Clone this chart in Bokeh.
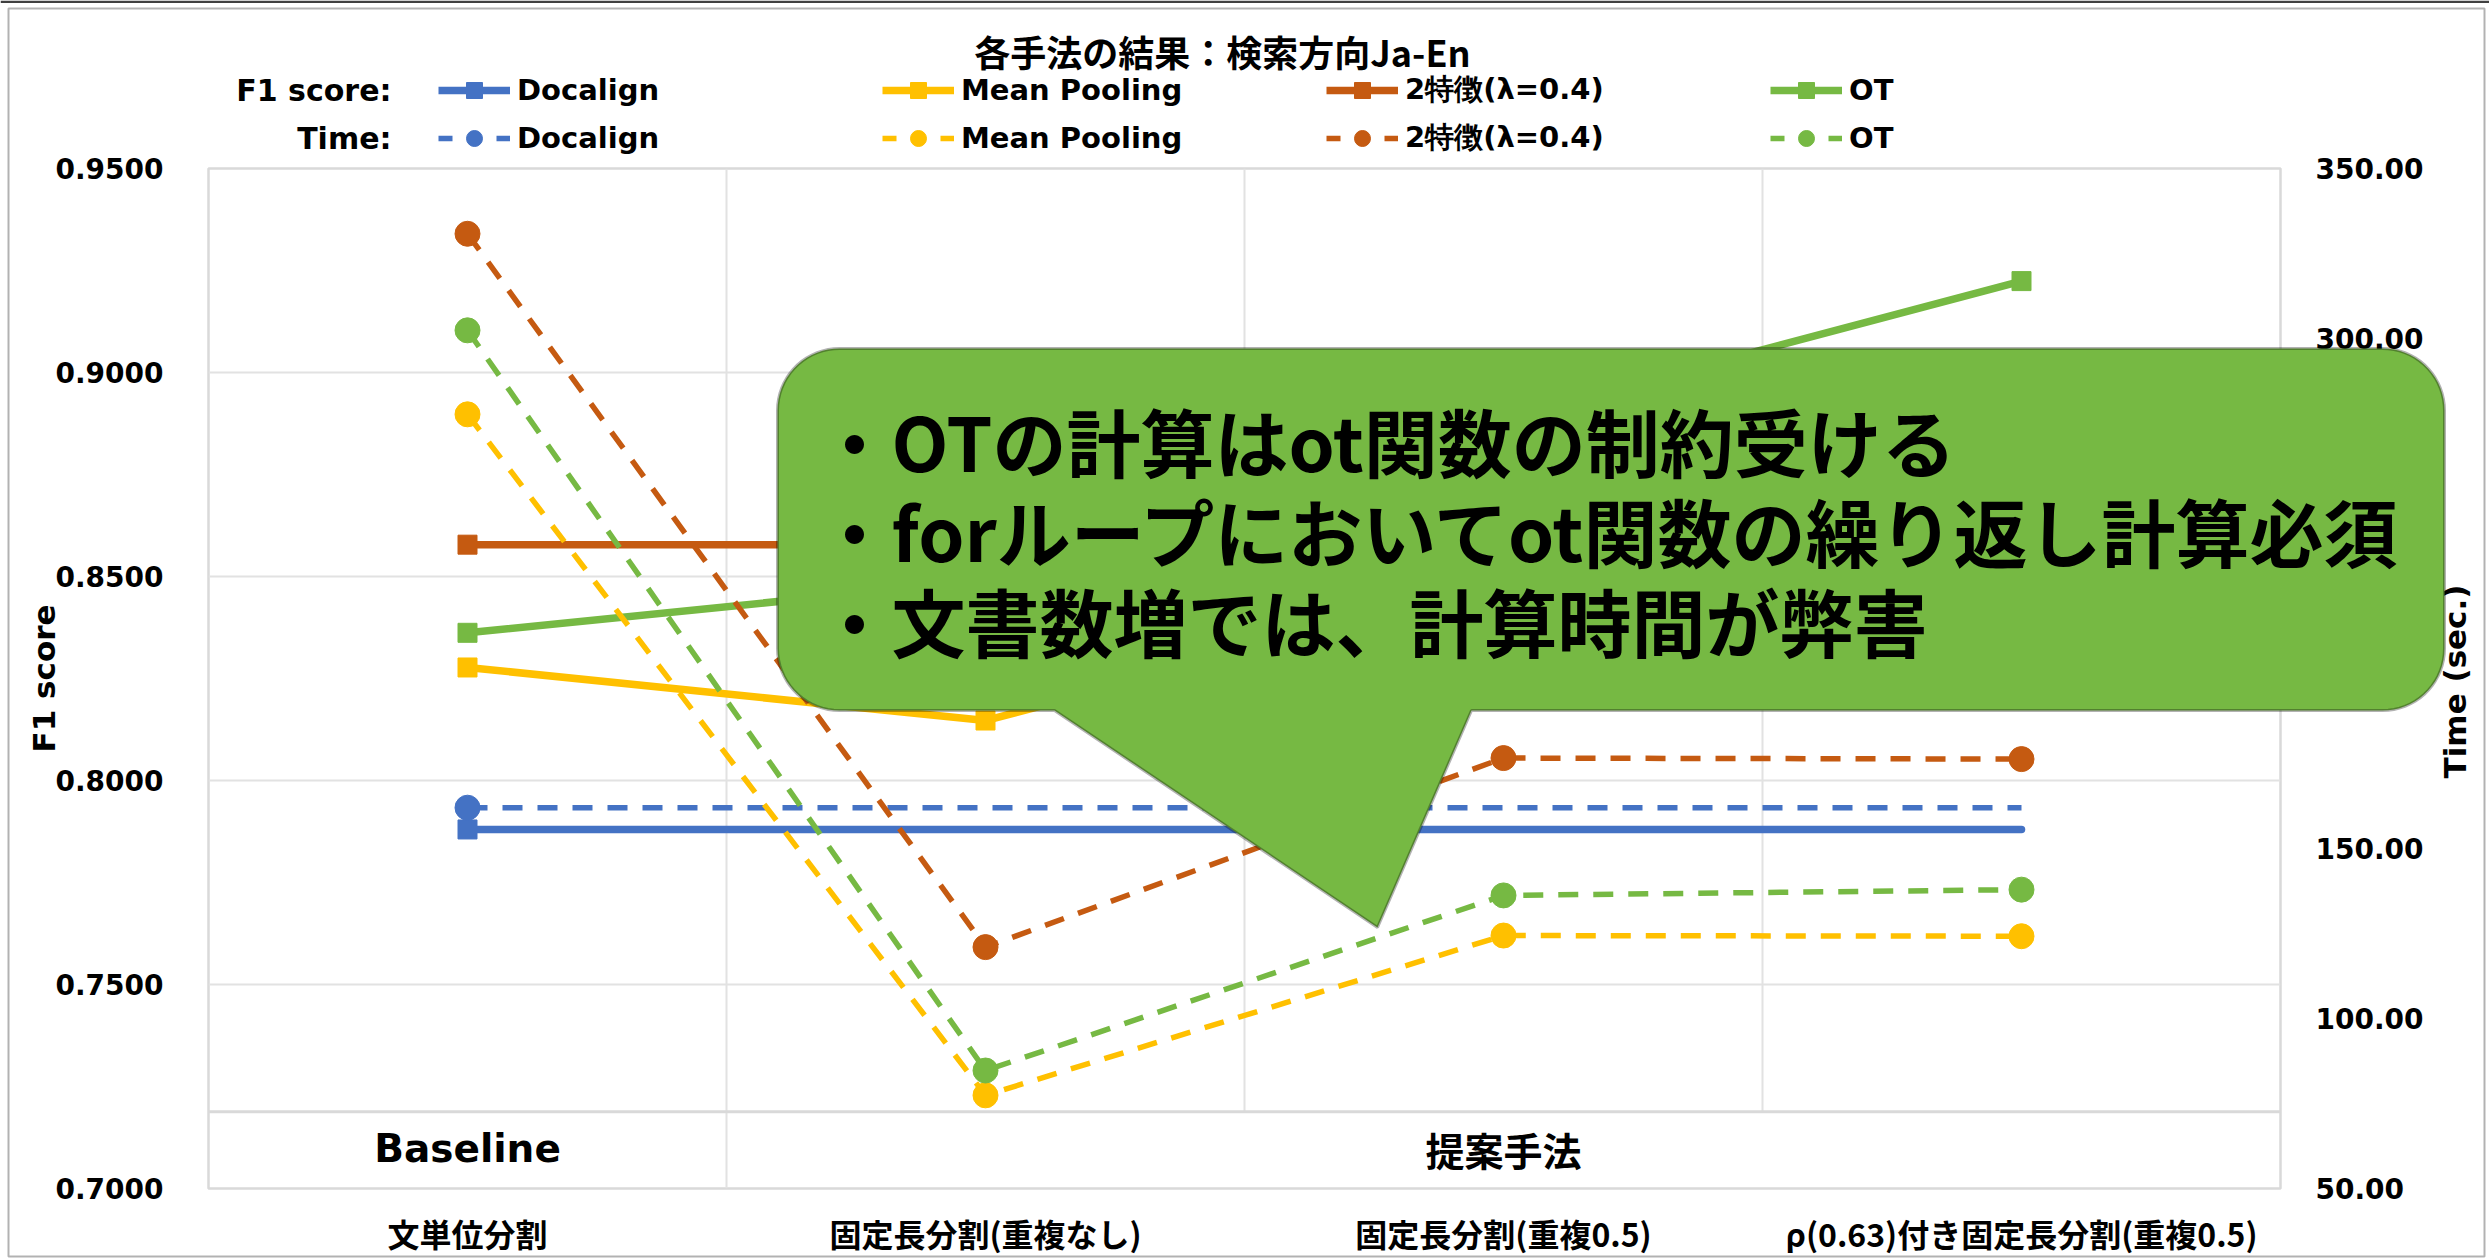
import math
import numpy as np
from bokeh.plotting import figure
from bokeh.models import (FactorRange, Range1d, LinearAxis, FixedTicker,
                          NumeralTickFormatter, Legend, LegendItem, Label,
                          PolyAnnotation, BoxAnnotation, GridBox)
from bokeh.embed import file_html
from bokeh.resources import INLINE

# ---------------- data ----------------
categories = ["文単位分割", "固定長分割(重複なし)", "固定長分割(重複0.5)",
              "ρ(0.63)付き固定長分割(重複0.5)"]
group_names = ["Baseline", "提案手法"]
group_sizes = [1, 3]
series_names = ["Docalign", "Mean Pooling", "2特徴(λ=0.4)", "OT"]

f1_docalign = [0.7880, 0.7880, 0.7880, 0.7880]
f1_mean_pooling = [0.8277, 0.8147, 0.8480, 0.8500]
f1_two_feature = [0.8578, 0.8578, 0.8720, 0.8760]
f1_ot = [0.8362, 0.8490, 0.8888, 0.9224]

time_docalign = [162.0, 162.0, 162.0, 162.0]
time_mean_pooling = [277.7, 77.4, 124.4, 124.2]
time_two_feature = [330.8, 121.0, 176.6, 176.3]
time_ot = [302.4, 84.7, 136.2, 137.9]

f1_ticks = [0.70, 0.75, 0.80, 0.85, 0.90, 0.95]
time_ticks = [50, 100, 150, 200, 250, 300, 350]

title_text = "各手法の結果：検索方向Ja-En"
row_labels = ["F1 score:", "Time:"]
left_axis_title = "F1 score"
right_axis_title = "Time (sec.)"
callout_lines = ["・OTの計算はot関数の制約受ける",
                 "・forループにおいてot関数の繰り返し計算必須",
                 "・文書数増では、計算時間が弊害"]

# ---------------- layout (pixels) ----------------
W, H = 2489, 1258
FL, FR, FT, FB = 208, 2280, 168, 1190
Y0, Y1 = 0.70, 0.95
T0, T1 = 50.0, 350.0
NC = len(categories)


def sy(py):
    return Y1 - (py - FT) / (FB - FT) * (Y1 - Y0)


LATIN = "DejaVu Sans"
CJK = "Noto Sans CJK JP"

BLUE, GOLD, ORANGE, GREEN = "#4472C4", "#FFC000", "#C55A11", "#76B943"
colors = [BLUE, GOLD, ORANGE, GREEN]

# =============== main chart ===============
p = figure(width=W, height=H,
           x_range=FactorRange(*categories, range_padding=0, factor_padding=0),
           y_range=Range1d(Y0, Y1),
           output_backend="svg", toolbar_location=None,
           min_border_left=FL, min_border_right=W - FR,
           min_border_top=FT, min_border_bottom=H - FB)
p.background_fill_color = "white"
p.border_fill_color = "white"
p.outline_line_color = "#D9D9D9"
p.outline_line_width = 2.5

p.extra_y_ranges = {"time": Range1d(T0, T1)}


def style_axis(ax, font, size, standoff):
    ax.major_label_text_font = font
    ax.major_label_text_font_style = "bold"
    ax.major_label_text_font_size = size
    ax.major_label_text_color = "black"
    ax.major_label_standoff = standoff
    ax.axis_line_color = None
    ax.major_tick_line_color = None
    ax.minor_tick_line_color = None
    ax.major_tick_out = 0
    ax.major_tick_in = 0
    ax.minor_tick_out = 0
    ax.minor_tick_in = 0
    ax.axis_label_text_font = LATIN
    ax.axis_label_text_font_style = "bold"
    ax.axis_label_text_font_size = "31px"
    ax.axis_label_text_color = "black"


# left axis
ya = p.yaxis[0]
ya.ticker = FixedTicker(ticks=f1_ticks)
ya.formatter = NumeralTickFormatter(format="0.0000")
ya.axis_label = left_axis_title
style_axis(ya, LATIN, "28px", 45)
ya.axis_label_standoff = -10

# right axis (its title is drawn on the overlay so it reads bottom-to-top)
ra = LinearAxis(y_range_name="time", ticker=FixedTicker(ticks=time_ticks),
                formatter=NumeralTickFormatter(format="0.00"))
style_axis(ra, LATIN, "28px", 35)
p.add_layout(ra, "right")

# x axis
xa = p.xaxis[0]
style_axis(xa, CJK, "32px", 21)

# grids
p.xgrid.visible = False
p.ygrid.grid_line_color = "#E2E2E2"
p.ygrid.grid_line_width = 2

box_top = sy(1113)
bounds = np.cumsum(group_sizes)[:-1].tolist()
for k in range(1, NC):
    y_start = Y0 if k in bounds else box_top
    p.segment(x0=[k], y0=[y_start], x1=[k], y1=[Y1],
              line_color="#E2E2E2", line_width=2)
p.segment(x0=[0], y0=[box_top], x1=[NC], y1=[box_top],
          line_color="#D9D9D9", line_width=3)

# group labels inside the box
start = 0
for gname, gs in zip(group_names, group_sizes):
    p.add_layout(Label(x=start + gs / 2, y=sy(1150), text=gname,
                       text_align="center", text_baseline="middle",
                       text_font=LATIN if gname.isascii() else CJK,
                       text_font_style="bold", text_font_size="39px",
                       text_color="black"))
    start += gs

# ---------------- series ----------------
f1_all = [f1_docalign, f1_mean_pooling, f1_two_feature, f1_ot]
time_all = [time_docalign, time_mean_pooling, time_two_feature, time_ot]
marker_count = [1, NC, NC, NC]

F1_LW, F1_MS = 7.5, 19
T_LW, T_MS, T_DASH = 5.5, 25, "20 15"

for vals, col, mc in zip(f1_all, colors, marker_count):
    p.line(categories, vals, line_color=col, line_width=F1_LW,
           line_join="round", line_cap="round")
    p.scatter(categories[:mc], vals[:mc], marker="square", size=F1_MS,
              fill_color=col, line_color=col)

for vals, col, mc in zip(time_all, colors, marker_count):
    p.line(categories, vals, line_color=col, line_width=T_LW,
           line_dash=T_DASH, y_range_name="time")
    p.scatter(categories[:mc], vals[:mc], marker="circle", size=T_MS,
              fill_color=col, line_color=col, y_range_name="time")

# =============== overlay (title, legend, callout) ===============
q = figure(width=W, height=H, x_range=Range1d(0, W), y_range=Range1d(H, 0),
           x_axis_type=None, y_axis_type=None, min_border=0,
           output_backend="svg", toolbar_location=None)
q.outline_line_color = None
q.background_fill_alpha = 0
q.border_fill_alpha = 0
q.xgrid.visible = False
q.ygrid.visible = False
for fig in (p, q):
    if "frame_align" in fig.properties():
        fig.frame_align = False

# legend-only renderers (a single undefined point, nothing drawn in the plot)
NAN = [float("nan")]
f1_items, time_items = [], []
for name, col in zip(series_names, colors):
    l1 = q.line(NAN, NAN, line_color=col, line_width=F1_LW)
    m1 = q.scatter(NAN, NAN, marker="square", size=F1_MS, fill_color=col, line_color=col)
    f1_items.append(LegendItem(label=name, renderers=[l1, m1]))
    l2 = q.line(NAN, NAN, line_color=col, line_width=T_LW, line_dash="14 44")
    m2 = q.scatter(NAN, NAN, marker="circle", size=T_MS, fill_color=col, line_color=col)
    time_items.append(LegendItem(label=name, renderers=[l2, m2]))


def make_legend(items, center_y):
    return Legend(items=items, location=(438, H - (center_y + 20)),
                  orientation="horizontal", glyph_width=72, glyph_height=40,
                  label_standoff=7, label_width=365, spacing=0, padding=0,
                  margin=0, border_line_alpha=0, background_fill_alpha=0,
                  label_text_font=LATIN, label_text_font_style="bold",
                  label_text_font_size="29px", label_text_color="black")


q.add_layout(make_legend(f1_items, 90))
q.add_layout(make_legend(time_items, 138))

for txt, yy in zip(row_labels, [90, 138]):
    q.add_layout(Label(x=391, y=yy, text=txt, text_align="right",
                       text_baseline="middle", text_font=LATIN,
                       text_font_style="bold", text_font_size="30px",
                       text_color="black"))

q.add_layout(Label(x=1222, y=50, text=title_text, text_align="center",
                   text_baseline="middle", text_font=CJK,
                   text_font_style="bold", text_font_size="36px",
                   text_color="black"))

q.add_layout(Label(x=2454, y=681, text=right_axis_title, angle=math.pi / 2,
                   text_align="center", text_baseline="middle",
                   text_font=LATIN, text_font_style="bold",
                   text_font_size="31px", text_color="black"))

# callout bubble
cx0, cy0, cx1, cy1, r = 777, 348, 2444, 710, 62
tail = [(1471, 710), (1377, 927), (1054, 710)]
pts = []


def arc(ccx, ccy, a0, a1):
    for a in np.linspace(a0, a1, 18):
        pts.append((ccx + r * np.cos(a), ccy + r * np.sin(a)))


arc(cx0 + r, cy0 + r, np.pi, 1.5 * np.pi)
arc(cx1 - r, cy0 + r, 1.5 * np.pi, 2 * np.pi)
arc(cx1 - r, cy1 - r, 0, 0.5 * np.pi)
pts.extend(tail)
arc(cx0 + r, cy1 - r, 0.5 * np.pi, np.pi)
q.add_layout(PolyAnnotation(xs=[a for a, b in pts], ys=[b for a, b in pts],
                            fill_color=GREEN, fill_alpha=1.0,
                            line_color="black", line_width=3))

for i, line in enumerate(callout_lines):
    q.add_layout(Label(x=817, y=439 + 90 * i, text=line,
                       text_align="left", text_baseline="middle",
                       text_font=CJK, text_font_style="bold",
                       text_font_size="74px", text_color="black"))

# outer chart border
q.add_layout(BoxAnnotation(left=0, right=W, top=0, bottom=2.5,
                           fill_color="#404040", fill_alpha=1, line_alpha=0))
q.add_layout(BoxAnnotation(left=8, right=2484, top=8, bottom=1256,
                           fill_alpha=0, line_color="black", line_width=2))

layout = GridBox(children=[(p, 0, 0), (q, 0, 0)])
open("out.html", "w").write(file_html(layout, INLINE))
